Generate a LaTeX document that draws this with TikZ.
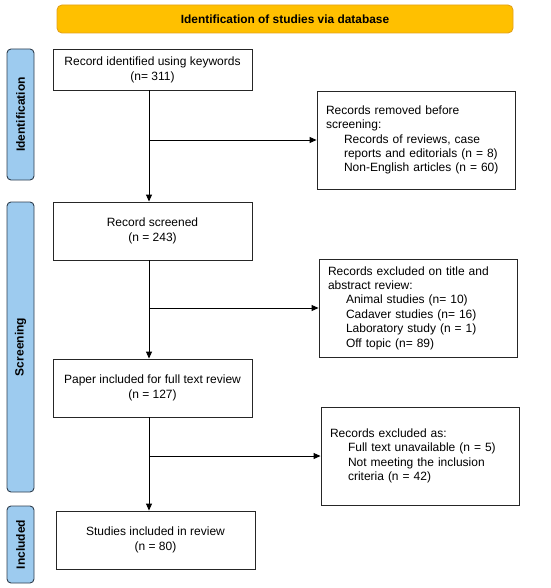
\documentclass[tikz,border=0pt]{standalone}
\usepackage{fontspec}
\setmainfont{Liberation Sans}
\usetikzlibrary{arrows.meta}
\definecolor{titlefill}{HTML}{FFC000}
\definecolor{titledraw}{HTML}{E3A21A}
\definecolor{sidefill}{HTML}{9DCBEF}
\definecolor{sidedraw}{HTML}{2F3E4E}
\definecolor{boxdraw}{HTML}{262626}
\tikzset{
  box/.style={draw=boxdraw, line width=0.9pt, fill=white, align=center, font=\fontsize{12}{14.8}\selectfont, inner sep=0pt},
  exbox/.style={draw=boxdraw, line width=0.9pt, fill=white, align=left, font=\fontsize{12}{14.4}\selectfont, inner sep=0pt, text width=180pt},
  side/.style={draw=sidedraw, line width=0.9pt, fill=sidefill, rounded corners=4pt, minimum width=27pt, font=\bfseries\fontsize{12}{14}\selectfont, inner sep=0pt},
  titlebar/.style={draw=titledraw, line width=0.9pt, fill=titlefill, rounded corners=5pt, font=\bfseries\fontsize{11.9}{14}\selectfont, inner sep=0pt},
  arr/.style={draw=black, line width=0.9pt, -{Triangle[length=7pt,width=6pt]}}
}
\newcommand{\ind}{\hspace*{18pt}}
\begin{document}
\begin{tikzpicture}[x=1pt,y=-1pt]
\useasboundingbox (0,0) rectangle (550,588);
\node[titlebar, minimum width=456pt, minimum height=28pt] (title) at (285,19) {Identification of studies via database};
\node[side, minimum height=131pt] (s1) at (20.5,114.5) {\rotatebox{90}{Identification}};
\node[side, minimum height=290pt] (s2) at (20.5,347) {\rotatebox{90}{Screening}};
\node[side, minimum height=77pt] (s3) at (20.5,544.5) {\rotatebox{90}{Included}};

\node[box, minimum width=199pt, minimum height=41pt] (b1) at (152.5,69.5) {Record identified using keywords\\(n= 311)};
\node[box, minimum width=199pt, minimum height=58pt] (b2) at (152.5,231) {Record screened\\(n = 243)};
\node[box, minimum width=199pt, minimum height=58pt] (b3) at (152.5,388) {Paper included for full text review\\(n = 127)};
\node[box, minimum width=199pt, minimum height=58pt] (b4) at (155.5,540) {Studies included in review\\(n = 80)};

\node[exbox, minimum width=198pt, minimum height=98pt] (e1) at (416,140) {Records removed before\\screening:\\\ind Records of reviews, case\\\ind reports and editorials (n = 8)\\\ind Non-English articles (n = 60)};
\node[exbox, minimum width=198pt, minimum height=98pt] (e2) at (418,308) {Records excluded on title and\\abstract review:\\\ind Animal studies (n= 10)\\\ind Cadaver studies (n= 16)\\\ind Laboratory study (n = 1)\\\ind Off topic (n= 89)};
\node[exbox, minimum width=198pt, minimum height=98pt] (e3) at (420,456) {Records excluded as:\\\ind Full text unavailable (n = 5)\\\ind Not meeting the inclusion\\\ind criteria (n = 42)};

\coordinate (tx) at (149,0);
\draw[arr] (b1.south -| tx) -- (b2.north -| tx);
\draw[arr] (b2.south -| tx) -- (b3.north -| tx);
\draw[arr] (b3.south -| tx) -- (b4.north -| tx);
\draw[arr] (e1.west -| tx) -- (e1.west);
\draw[arr] (e2.west -| tx) -- (e2.west);
\draw[arr] (e3.west -| tx) -- (e3.west);
\end{tikzpicture}
\end{document}
